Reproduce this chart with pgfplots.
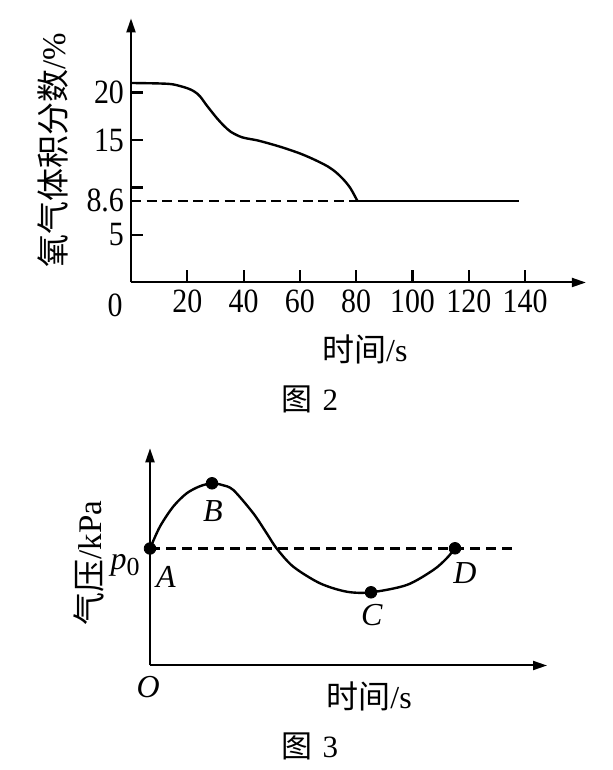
\documentclass[border=0pt]{standalone}
\usepackage{fontspec}
\setmainfont{Liberation Serif}
\newfontfamily\numfont{Liberation Serif}[FakeStretch=0.88]
\newfontfamily\cjk{Noto Sans CJK SC}
\usepackage{pgfplots}
\pgfplotsset{compat=1.18}
\usetikzlibrary{arrows.meta}

\begin{document}
\begin{tikzpicture}[x=1pt,y=1pt]
\useasboundingbox (0,0) rectangle (306.5,385);
% ---------- Figure 2 ----------
\begin{axis}[
  at={(65.5pt,243.75pt)}, anchor=south west,
  x=1.4075pt, y=4.75pt,
  xmin=0, xmax=161.6, ymin=0, ymax=27.8,
  axis lines=left,
  axis line style={line width=1pt,-{Triangle[length=7pt,width=4.5pt]}},
  xtick align=inside, ytick align=inside,
  major tick length=6pt,
  every tick/.style={line width=1.1pt,black},
  xtick={20,40,...,140}, xticklabels={20,40,60,80,100,120,140},
  ytick={5,10,15,20}, yticklabels={5,,15,20},
  extra y ticks={8.6}, extra y tick labels={8.6},
  extra y tick style={major tick length=0pt},
  tick label style={font=\numfont\fontsize{17}{17}\selectfont},
  /pgf/number format/assume math mode=true,
  clip=false,
  xlabel={{\cjk 时间}/s},
  ylabel={{\cjk 氧气体积分数}/\%},
  xlabel style={at={(rel axis cs:0.514,-0.252)},anchor=center,font=\fontsize{16}{16}\selectfont},
  ylabel style={at={(rel axis cs:-0.172,0.502)},anchor=center,font=\fontsize{16.5}{17}\selectfont},
]
\addplot[line width=1.2pt, smooth] coordinates {
 (0,21.0) (10,20.95) (15,20.85) (20,20.45) (22.5,20.1) (24.5,19.6) (27,18.6)
 (30.5,17.3) (33,16.5) (35.5,15.85) (39.5,15.28) (45,14.95) (50.6,14.5)
 (55,14.1) (60.3,13.55) (65,12.95) (70,12.2) (73,11.55) (75.6,10.8)
 (78,9.9) (80.4,8.6)
};
\addplot[line width=1.2pt] coordinates {(80.4,8.6) (138,8.6)};
\addplot[line width=1.1pt, dash pattern=on 5pt off 2.8pt] coordinates {(0,8.6) (80.4,8.6)};
\node[font=\numfont\fontsize{17}{17}\selectfont] at (axis cs:0,0) [xshift=-8pt,yshift=-11.25pt] {0};
\node[font=\fontsize{15.5}{16}\selectfont] at (rel axis cs:0.393,-0.441) {{\cjk 图}\hspace{5pt}2};
\end{axis}
% ---------- Figure 3 ----------
\begin{axis}[
  at={(75pt,52.25pt)}, anchor=south west,
  x=0.5pt, y=0.5pt,
  xmin=0, xmax=397, ymin=0, ymax=217.2,
  axis lines=left,
  axis line style={line width=1pt,-{Triangle[length=7pt,width=4.5pt]}},
  xtick=\empty, ytick=\empty,
  clip=false,
  xlabel={{\cjk 时间}/s},
  ylabel={{\cjk 气压}/kPa},
  xlabel style={at={(rel axis cs:0.552,-0.1436)},anchor=center,font=\fontsize{16}{16}\selectfont},
  ylabel style={at={(rel axis cs:-0.154,0.472)},anchor=center,font=\fontsize{16.5}{17}\selectfont},
]
\addplot[line width=1.1pt, dash pattern=on 5pt off 3pt] coordinates {(0,117) (361.7,117)};
\addplot[line width=1.2pt, smooth] coordinates {
 (0,117) (10,139) (23.3,159) (36.7,172.2) (50,179.3) (62,182.2) (72,180.5)
 (83.3,175.5) (103.3,152.2) (116.7,132.2) (126.7,117) (143.3,98.8) (170,82.2)
 (196.7,73.8) (221,73.2) (256.7,80.5) (283.3,95.5) (296.7,107.2) (305,117.2)
};
\addplot[only marks, mark=*, mark size=2.9pt, black] coordinates {
 (0,117) (62,182.2) (221,73.2) (305,117.2)
};
\node[font=\fontsize{16}{16}\selectfont\itshape] at (axis cs:63,154.5) {B};
\node[font=\fontsize{16}{16}\selectfont\itshape] at (axis cs:16,88.8) {A};
\node[font=\fontsize{16}{16}\selectfont\itshape] at (axis cs:221.7,50.5) {C};
\node[font=\fontsize{16}{16}\selectfont\itshape] at (axis cs:315,92.2) {D};
\node[font=\fontsize{16}{16}\selectfont\itshape] at (axis cs:-1.7,-21.2) {O};
\node[font=\fontsize{16}{16}\selectfont] at (axis cs:-25,100.5) {\textit{p}\raisebox{-0.4ex}{\fontsize{13}{13}\selectfont 0}};
\node[font=\fontsize{15.5}{16}\selectfont] at (rel axis cs:0.403,-0.374) {{\cjk 图}\hspace{5pt}3};
\end{axis}
\end{tikzpicture}
\end{document}
